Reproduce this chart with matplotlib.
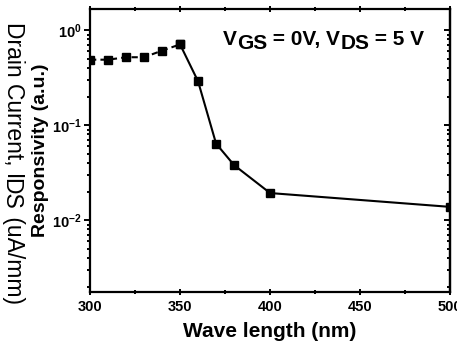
import numpy as np
import matplotlib.pyplot as plt
import matplotlib.ticker as mticker
from matplotlib.transforms import offset_copy

# wavelength (nm) and responsivity (a.u.)
wl_a = [300, 310, 320, 330, 340, 350]
resp_a = [0.49, 0.49, 0.52, 0.52, 0.61, 0.71]
wl_b = [350, 360, 370, 380, 400, 500]
resp_b = [0.71, 0.29, 0.064, 0.038, 0.0193, 0.0138]
ytick_vals = [1e-2, 1e-1, 1e0]
ytick_labels = [r'$\mathbf{10^{-2}}$', r'$\mathbf{10^{-1}}$', r'$\mathbf{10^{0}}$']

plt.rcParams['font.family'] = ['Liberation Sans', 'DejaVu Sans']
plt.rcParams['mathtext.fontset'] = 'custom'
plt.rcParams['mathtext.rm'] = 'Liberation Sans'
plt.rcParams['mathtext.bf'] = 'Liberation Sans:bold'

fig = plt.figure(figsize=(4.57, 3.51), dpi=100)
ax = fig.add_axes([0.197, 0.168, 0.788, 0.806])

ax.plot(wl_a, resp_a, 'k--', marker='s', markersize=6, linewidth=1.5, dashes=(3, 2))
ax.plot(wl_b, resp_b, 'k-', marker='s', markersize=6, linewidth=1.5)

ax.set_yscale('log')
ax.set_xlim(300, 500)
ax.set_ylim(0.00175, 1.67)
ax.set_xticks([300, 350, 400, 450, 500])
ax.xaxis.set_minor_locator(mticker.MultipleLocator(25))
ax.yaxis.set_major_locator(mticker.FixedLocator(ytick_vals))
ax.yaxis.set_major_formatter(mticker.FixedFormatter(ytick_labels))
ax.yaxis.set_minor_locator(mticker.LogLocator(base=10, subs=np.arange(2, 10)))
ax.yaxis.set_minor_formatter(mticker.NullFormatter())

for s in ax.spines.values():
    s.set_linewidth(1.6)

ax.tick_params(axis='x', which='both', top=True, direction='inout', width=1.4, labelsize=10.5, pad=3)
ax.tick_params(axis='x', which='major', length=5)
ax.tick_params(axis='x', which='minor', length=3)
ax.tick_params(axis='y', which='both', direction='out', width=1.4, labelsize=10.5, right=False, pad=2)
ax.tick_params(axis='y', which='major', length=4)
ax.tick_params(axis='y', which='minor', length=2.5)

sec = ax.secondary_yaxis('right')
sec.yaxis.set_major_locator(mticker.FixedLocator(ytick_vals))
sec.yaxis.set_minor_locator(mticker.LogLocator(base=10, subs=np.arange(2, 10)))
sec.tick_params(which='both', direction='in', width=1.4, labelright=False)
sec.tick_params(which='major', length=4)
sec.tick_params(which='minor', length=2.5)
sec.spines['right'].set_linewidth(1.6)

for lab in ax.get_xticklabels():
    lab.set_fontweight('bold')

ax.set_xlabel('Wave length (nm)', fontsize=15, fontweight='bold', labelpad=6)
fig.text(41 / 457, 1 - 150 / 351, 'Responsivity (a.u.)', rotation=90, fontsize=14,
         fontweight='bold', ha='center', va='center')

renderer = fig.canvas.get_renderer()

# rotated label reading top to bottom, "DS" lowered at full size
parts = [('Drain Current, I', 0), ('DS', -3), (' (uA/mm)', 0)]
adv = 0
for txt, dy in parts:
    tr = offset_copy(fig.transFigure, fig=fig, x=dy, y=-adv, units='dots')
    t = fig.text(7 / 457, 1 - 22 / 351, txt, transform=tr, rotation=-90, rotation_mode='anchor',
                 fontsize=16.5, ha='left', va='baseline')
    adv += t.get_window_extent(renderer).height

# annotation with full-size lowered subscripts
parts = [('V', 0), ('GS', -4), (' = 0V, V', 0), ('DS', -4), (' = 5 V', 0)]
dx = 0
for txt, dy in parts:
    tr = offset_copy(ax.transAxes, fig=fig, x=dx, y=dy, units='dots')
    t = ax.text(0.37, 0.873, txt, transform=tr, fontsize=15, fontweight='bold',
                ha='left', va='baseline')
    dx += t.get_window_extent(renderer).width

fig.savefig('out.png', dpi=100)
